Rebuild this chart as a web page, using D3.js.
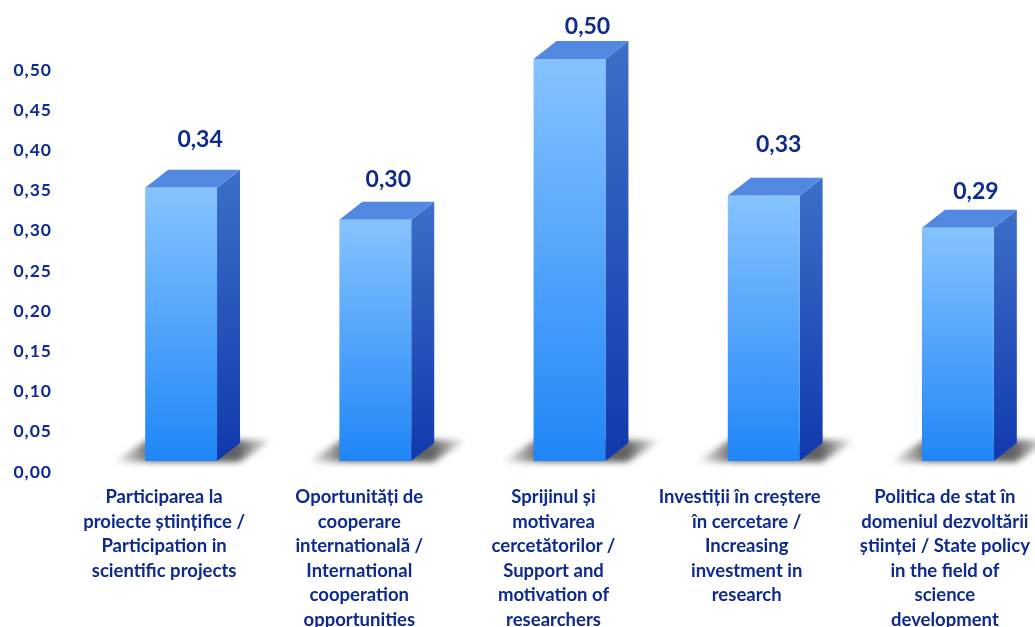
<!DOCTYPE html>
<html><head><meta charset="utf-8">
<script src="https://cdn.jsdelivr.net/npm/d3@7/dist/d3.min.js"></script>
<style>html,body{margin:0;padding:0;background:#fff;overflow:hidden}
text{font-family:Lato,"Open Sans",sans-serif;font-weight:700;fill:#0d2a8f}</style>
</head><body><svg id="c" width="1035" height="627"></svg>
<script>
const categories=[
 ["Participarea la","proiecte științifice /","Participation in","scientific projects"],
 ["Oportunități de","cooperare","internatională /","International","cooperation","opportunities"],
 ["Sprijinul și","motivarea","cercetătorilor /","Support and","motivation of","researchers"],
 ["Investiții în creștere","în cercetare /","Increasing","investment in","research"],
 ["Politica de stat în","domeniul dezvoltării","științei / State policy","in the field of","science","development"]];
const values=[0.34,0.30,0.50,0.33,0.29];
const valueLabels=["0,34","0,30","0,50","0,33","0,29"];
const tickValues=[0,.05,.10,.15,.20,.25,.30,.35,.40,.45,.50];
// hand placement of the value labels and category blocks, as in the reference
const valueDx=[19,13,18,15,18], valueDy=[-41,-33,-25,-44,-29], catDx=[-17,-16,-16,-17,-13];

const svg=d3.select("#c");
const y=d3.scaleLinear().domain([0,0.5]).range([461,59]);
const x=d3.scaleBand().domain(d3.range(5)).range([84,1055]).paddingInner(0.63).paddingOuter(0.315);
const dx=23,dy=18;
const defs=svg.append("defs");
function grad(id,stops,x2,y2){const g=defs.append("linearGradient").attr("id",id).attr("x1",0).attr("y1",0).attr("x2",x2).attr("y2",y2);
 stops.forEach(s=>g.append("stop").attr("offset",s[0]).attr("stop-color",s[1]).attr("stop-opacity",s[2]==null?1:s[2]));}
grad("front",[[0,"#86c3ff"],[1,"#1f86f7"]],0,1);
grad("side",[[0,"#3d6fc8"],[1,"#1239ad"]],0,1);
grad("shadow",[[0,"#000",0],[0.25,"#000",0.62],[0.78,"#000",0.62],[1,"#000",0]],1,0);
defs.append("filter").attr("id","blur").attr("x","-20%").attr("y","-40%").attr("width","140%").attr("height","180%")
 .append("feGaussianBlur").attr("stdDeviation",3);
defs.append("filter").attr("id","soft").append("feGaussianBlur").attr("stdDeviation",0.35);

const g=svg.append("g").selectAll("g").data(d3.range(5)).join("g");
const bw=x.bandwidth();
g.append("polygon").attr("fill","url(#shadow)").attr("filter","url(#blur)")
 .attr("points",i=>{const l=x(i),b=y(0),r=l+bw;return [[l-32,b+1],[r+22,b+1],[r+56,b-21],[l+2,b-21]].join(" ")});
g.append("polygon").attr("fill","url(#side)")
 .attr("points",i=>{const r=x(i)+bw,t=y(values[i]),b=y(0);return [[r,t],[r+dx,t-dy],[r+dx,b-dy],[r,b]].join(" ")});
g.append("polygon").attr("fill","#5288e2")
 .attr("points",i=>{const l=x(i),r=l+bw,t=y(values[i]);return [[l,t],[l+dx,t-dy],[r+dx,t-dy],[r,t]].join(" ")});
g.append("rect").attr("fill","url(#front)")
 .attr("x",i=>x(i)).attr("width",bw).attr("y",i=>y(values[i])).attr("height",i=>y(0)-y(values[i]));
g.append("text").attr("text-anchor","middle").style("font-size","23px").attr("filter","url(#soft)")
 .attr("x",i=>x(i)+bw/2+valueDx[i]).attr("y",i=>y(values[i])+valueDy[i]).text(i=>valueLabels[i]);

const axis=d3.axisLeft(y).tickValues(tickValues).tickSize(0).tickFormat(v=>d3.format(".2f")(v).replace(".",","));
const ag=svg.append("g").attr("transform","translate(52,10)").call(axis);
ag.select(".domain").remove();
ag.selectAll("text").attr("x",0).attr("dy","0.35em").attr("filter","url(#soft)").style("font-size","17.5px").style("letter-spacing","1px").style("font-family","Lato,sans-serif");

const lab=svg.append("g").selectAll("text").data(d3.range(5)).join("text")
 .attr("text-anchor","middle").style("font-size","18.5px").attr("filter","url(#soft)");
lab.selectAll("tspan").data(i=>categories[i].map((t,j)=>({t,i,j}))).join("tspan")
 .attr("x",d=>x(d.i)+bw/2+catDx[d.i]-(d.i===3&&d.j===0?7:0)).attr("y",d=>503+d.j*24.6).text(d=>d.t);
</script></body></html>
